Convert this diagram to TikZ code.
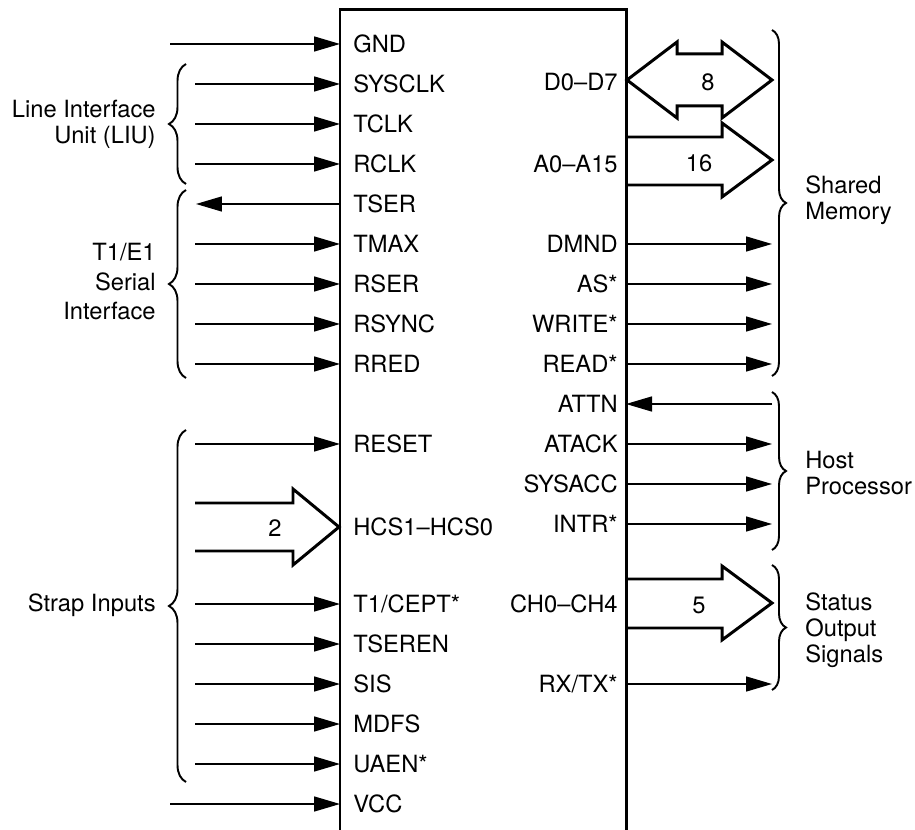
\documentclass[tikz,border=0pt]{standalone}
\usepackage{fontspec}
\setmainfont{TeX Gyre Heros}
\usetikzlibrary{arrows.meta,positioning,calc,decorations.pathreplacing}
\newcommand{\pinfont}{\fontsize{13.5}{14.8}\selectfont}

\begin{document}
\begin{tikzpicture}[x=0.02cm, y=-0.02cm,
  >={Triangle[length=0.52cm,width=0.3cm]},
  pinl/.style={anchor=west, font=\pinfont, inner sep=0pt,
    text height=9.7pt, text depth=0pt},
  pinr/.style={pinl, anchor=east},
  buswidth/.style={pinl, anchor=center},
  grp/.style={font=\pinfont, inner sep=0pt},
  sig/.style={->, line width=0.85pt},
  bus/.style={line width=1.7pt, line join=miter},
  brc/.style={decorate, line width=1.1pt,
    decoration={brace, amplitude=#1}},
  brc/.default=0.34cm]
  \useasboundingbox[fill=white] (0,0) rectangle (915,830);

  % chip outline, open at the bottom
  \coordinate (chipL) at (340,10);
  \coordinate (chipR) at (626,10);
  \draw[line width=1.7pt] (340,830) -- (chipL) -- (chipR) -- (626,830);

  % left side inputs
  \foreach \n/\r/\t/\s in {gnd/0/GND/170, sysclk/1/SYSCLK/195,
      tclk/2/TCLK/195, rclk/3/RCLK/195, tmax/5/TMAX/195, rser/6/RSER/195,
      rsync/7/RSYNC/195, rred/8/RRED/195, reset/10/RESET/195,
      tcept/14/{T1/CEPT*}/195, tseren/15/TSEREN/195, sis/16/SIS/195,
      mdfs/17/MDFS/195, uaen/18/UAEN*/195, vcc/19/VCC/170} {
    \node[pinl] (\n) at (353,{44+40*\r}) {\t};
    \coordinate (\n-src) at (\s,{44+40*\r});
    \draw[sig] (\n-src) -- (\n.west -| chipL);
  }
  \node[pinl] (tser) at (353,204) {TSER};
  \coordinate (tser-dst) at (196,204);
  \draw[sig] (tser.west -| chipL) -- (tser-dst);

  % right side outputs
  \foreach \n/\r/\t in {dmnd/5/DMND, as/6/AS*, write/7/WRITE*, read/8/READ*,
      atack/10/ATACK, sysacc/11/SYSACC, intr/12/INTR*, rxtx/16/{RX/TX*}} {
    \node[pinr] (\n) at (618,{44+40*\r}) {\t};
    \coordinate (\n-dst) at (772,{44+40*\r});
    \draw[sig] (\n.east -| chipR) -- (\n-dst);
  }
  \node[pinr] (attn) at (618,404) {ATTN};
  \coordinate (attn-src) at (772,404);
  \draw[sig] (attn-src) -- (attn.east -| chipR);

  % buses
  \node[pinr] (dbus) at (618,82) {D0--D7};
  \node[pinr] (abus) at (618,164) {A0--A15};
  \node[pinl] (hcs) at (353,527) {HCS1--HCS0};
  \node[pinr] (chbus) at (618,604) {CH0--CH4};
  \draw[bus] (627,80) -- (677,42) -- (677,54) -- (722,54) -- (722,42)
    -- (772,80) -- (722,118) -- (722,106) -- (677,106) -- (677,118) -- cycle;
  \draw[bus] (627,137) -- (722,137) -- (722,123) -- (772,160)
    -- (722,197) -- (722,185) -- (627,185);
  \draw[bus] (195,503) -- (293,503) -- (293,489) -- (339,527)
    -- (293,565) -- (293,551) -- (195,551);
  \draw[bus] (627,579) -- (722,579) -- (722,566) -- (772,603)
    -- (722,640) -- (722,628) -- (627,628);
  \node[buswidth] (dw) at (708,82) {8};
  \node[buswidth] (aw) at (699,163) {16};
  \node[buswidth] (hw) at (275,528) {2};
  \node[buswidth] (chw) at (699,605) {5};

  % groups
  \draw[brc] (186,184) -- (186,64);
  \draw[brc] (186,378) -- (186,190);
  \draw[brc] (186,782) -- (186,430);
  \draw[brc=0.28cm] (772,30) -- (772,376);
  \draw[brc=0.28cm] (772,392) -- (772,550);
  \draw[brc=0.28cm] (772,565) -- (772,690);
  \node[grp, align=right, anchor=east] (liu) at (156,124)
    {Line Interface\\Unit (LIU)};
  \node[grp, align=right, anchor=east] (serial) at (156,282)
    {T1/E1\\[2pt]Serial\\[2pt]Interface};
  \node[grp, anchor=east] (strap) at (156,605) {Strap Inputs};
  \node[grp, align=left, anchor=west] (shmem) at (805,200)
    {Shared\\Memory};
  \node[grp, align=left, anchor=west] (host) at (805,473)
    {Host\\Processor};
  \node[grp, align=left, anchor=west] (status) at (805,630)
    {Status\\Output\\Signals};
\end{tikzpicture}
\end{document}
